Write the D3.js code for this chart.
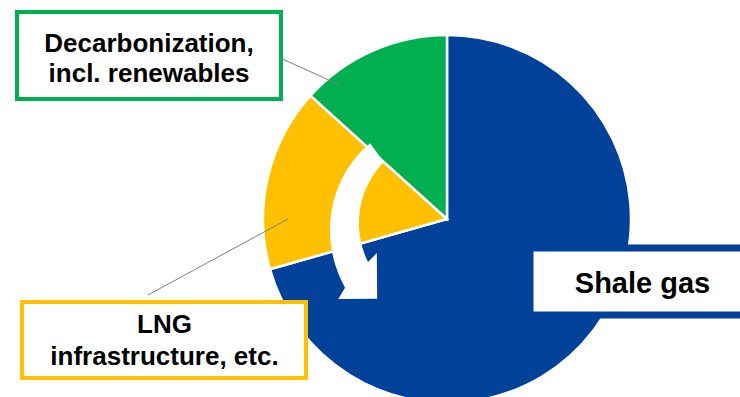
<!DOCTYPE html>
<html>
<head>
<meta charset="utf-8">
<script src="https://cdn.jsdelivr.net/npm/d3@7"></script>
<style>
  body { margin: 0; background: #fff; }
  text { font-family: "Liberation Sans", Arial, sans-serif; font-weight: bold; fill: #000; }
</style>
</head>
<body>
<script>
// investment shares (%)
var categories = ["Shale gas", "LNG infrastructure, etc.", "Decarbonization, incl. renewables"];
var shares = [70.6, 16.1, 13.3];
var colors = ["#00419a", "#ffc000", "#00b050"];
var labelLines = [["Shale gas"], ["LNG", "infrastructure, etc."], ["Decarbonization,", "incl. renewables"]];

var width = 740,
    height = 397,
    cx = 447,
    cy = 219,
    radius = 184;

var svg = d3.select("body")
    .append("svg")
    .attr("width", width)
    .attr("height", height);

var pie = d3.pie().sort(null).value(function(d) { return d; });
var arc = d3.arc().innerRadius(0).outerRadius(radius);

var slices = pie(shares);

var g = svg.append("g")
    .attr("transform", "translate(" + cx + "," + cy + ")");

// Slices
g.selectAll("path.slice")
    .data(slices)
    .enter()
    .append("path")
    .attr("class", "slice")
    .attr("d", arc)
    .attr("fill", function(d, i) { return colors[i]; })
    .attr("stroke", "#fff")
    .attr("stroke-width", 2.5)
    .attr("stroke-linejoin", "miter");

// Curved white arrow over the LNG slice (polar: degrees, radius)
var deg = Math.PI / 180;
var outerPts = [], innerPts = [];
for (var t = 0; t <= 1.0001; t += 0.05) {
    outerPts.push(d3.pointRadial((-45.4 - 78.6 * t) * deg, 108 + 15 * t));
    innerPts.push(d3.pointRadial((-47.9 - 70.7 * t) * deg, 85 + 5 * t));
}
var headPts = [
    d3.pointRadial(-126.3 * deg, 135),
    d3.pointRadial(-138.8 * deg, 106),
    d3.pointRadial(-115.9 * deg, 78)
];
var arrowPts = outerPts.concat(headPts).concat(innerPts.reverse());
g.append("path")
    .attr("d", d3.line()(arrowPts) + "Z")
    .attr("fill", "#fff");

// Leader lines
function leader(x1, y1, ang, r) {
    var p = d3.pointRadial(ang * deg, r);
    svg.append("line")
        .attr("x1", x1).attr("y1", y1)
        .attr("x2", cx + p[0]).attr("y2", cy + p[1])
        .attr("stroke", "#808080")
        .attr("stroke-width", 1);
}
// LNG label -> yellow slice, decarbonization label -> green slice
leader(148, 295, -90, 159);
leader(265, 51, -38.6, 171);

// Label boxes
var boxes = [
    {i: 0, x: 530, y: 248, w: 215, h: 67, stroke: colors[0], sw: 7, size: 29, lead: 0, base: 292.5, tx: 642.5},
    {i: 1, x: 22, y: 302, w: 284, h: 76, stroke: colors[1], sw: 4, size: 26, lead: 32, base: 333, tx: 164.5},
    {i: 2, x: 17, y: 12, w: 264, h: 87, stroke: colors[2], sw: 4, size: 26, lead: 29.5, base: 52, tx: 149}
];

boxes.forEach(function(b) {
    svg.append("rect")
        .attr("x", b.x)
        .attr("y", b.y)
        .attr("width", b.w)
        .attr("height", b.h)
        .attr("fill", "#fff")
        .attr("stroke", b.stroke)
        .attr("stroke-width", b.sw);

    var txt = svg.append("text")
        .attr("text-anchor", "middle")
        .attr("font-size", b.size + "px");
    labelLines[b.i].forEach(function(line, k) {
        txt.append("tspan")
            .attr("x", b.tx)
            .attr("y", b.base + k * b.lead)
            .text(line);
    });
});
</script>
</body>
</html>
